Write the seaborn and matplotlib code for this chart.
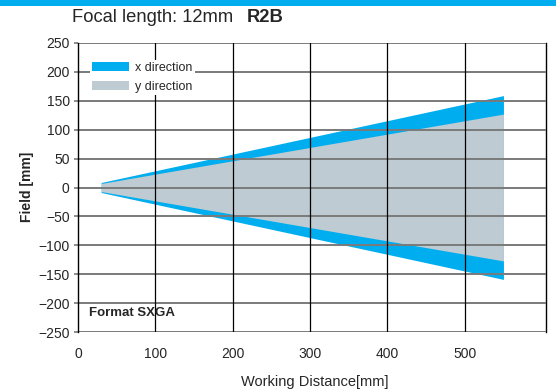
import numpy as np
import pandas as pd
import matplotlib
matplotlib.use("Agg")
import matplotlib.pyplot as plt
import seaborn as sns
from matplotlib.patches import Rectangle, Patch

# Data
distance = [30, 550]
x_half = [8.7, 159]
y_half = [7.0, 127]
x_ticks = [0, 100, 200, 300, 400, 500]
y_ticks = [250, 200, 150, 100, 50, 0, -50, -100, -150, -200, -250]
labels = ["x direction", "y direction"]

sns.set_style("white")
plt.rcParams['font.family'] = ['Liberation Sans', 'DejaVu Sans']

BLUE = "#00AEEF"
GRAY = "#BFCBD3"

fig = plt.figure(figsize=(5.56, 3.89), dpi=100)
ax = fig.add_axes([78/556, 1-332/389, (546-78)/556, (332-43)/389])

fig.patches.append(Rectangle((0, 1-6/389), 1, 6/389, transform=fig.transFigure,
                             facecolor=BLUE, edgecolor="none"))

df = pd.DataFrame({"d": distance, "xh": x_half, "yh": y_half})
xs = np.array(distance, dtype=float)
xh = np.array(x_half)
yh = np.array(y_half)

sns.lineplot(data=df, x="d", y="xh", ax=ax, lw=0, legend=False)
ax.fill_between(xs, -xh, xh, color=BLUE, lw=0, zorder=2)
ax.fill_between(xs, -yh, yh, color=GRAY, lw=0, zorder=3)

ax.set_xlim(0, 605)
ax.set_ylim(-250, 250)
ax.set_xticks(x_ticks)
ax.set_yticks(y_ticks)

for yv in y_ticks:
    ax.axhline(yv, color="#7a7a7a", lw=1.4, zorder=4)
for xv in x_ticks[1:]:
    ax.axvline(xv, color="black", lw=0.9, zorder=4)

for s in ["top", "bottom"]:
    ax.spines[s].set_visible(False)
ax.spines["left"].set_color("black")
ax.spines["left"].set_linewidth(1.0)
ax.spines["right"].set_color("black")
ax.spines["right"].set_linewidth(1.0)
ax.spines["left"].set_zorder(5)

ax.tick_params(axis="y", direction="out", length=3, color="#7a7a7a", width=1.2,
               labelsize=10, pad=3, left=True)
ax.tick_params(axis="x", length=0, labelsize=10, pad=11)

ax.set_xlabel("")
ax.set_ylabel("")
fig.text(315/556, 1-382/389, "Working Distance[mm]", fontsize=10.5, ha="center", va="center")
fig.text(27/556, 1-187/389, "Field [mm]", fontsize=10, fontweight="bold",
         ha="center", va="center", rotation=90)

ax.text(14, -217, "Format SXGA", fontsize=9.5, fontweight="bold", va="center",
        ha="left", zorder=6)

handles = [Patch(facecolor=BLUE, edgecolor="none"), Patch(facecolor=GRAY, edgecolor="none")]
leg = ax.legend(handles, labels, loc="upper left", bbox_to_anchor=(0.025, 0.94),
                frameon=True, fontsize=9, handlelength=3.0, handleheight=0.75,
                handletextpad=0.5, labelspacing=0.55, borderpad=0.15,
                framealpha=1, fancybox=False, borderaxespad=0)
leg.get_frame().set_edgecolor("none")
leg.set_zorder(6)

fig.text(72/556, 1-18/389, "Focal length: 12mm", fontsize=13.2, va="center", ha="left")
fig.text(247/556, 1-18/389, "R2B", fontsize=13.2, fontweight="bold", va="center", ha="left")

fig.savefig("out.png", dpi=100)
